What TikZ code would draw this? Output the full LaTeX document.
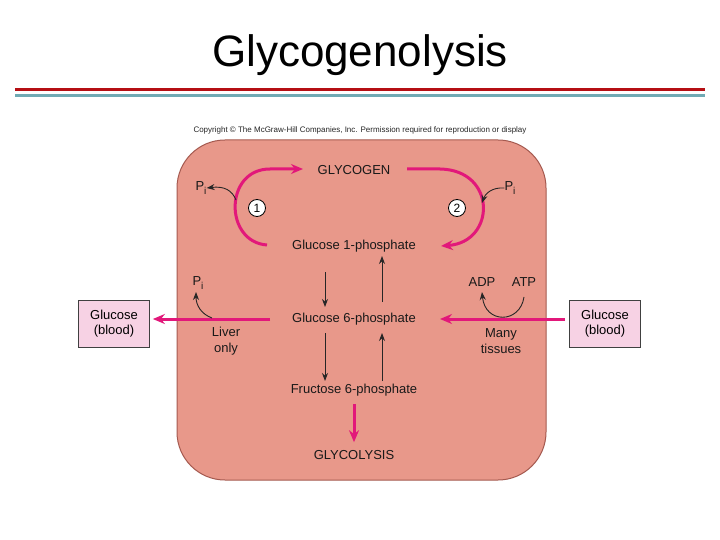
\documentclass[tikz,border=0pt]{standalone}
\usepackage{fontspec}
\setmainfont{Liberation Sans}
\usetikzlibrary{arrows.meta}
\definecolor{pinkarrow}{RGB}{226,24,122}
\definecolor{cellfill}{RGB}{232,152,138}
\definecolor{cellline}{RGB}{165,90,80}
\definecolor{boxfill}{RGB}{247,210,228}
\definecolor{redline}{RGB}{181,15,20}
\definecolor{tealline}{RGB}{112,170,180}
\newcommand{\Pisub}{P\raisebox{-0.3em}{\fontsize{10}{10}\selectfont i}}
\begin{document}
\begin{tikzpicture}[x=1pt,y=-1pt,
  lbl/.style={font=\fontsize{13}{15.5}\selectfont, inner sep=0pt, text=black!90},
  pinkarr/.style={draw=pinkarrow, line width=3pt, -{Stealth[length=12pt,width=10pt]}},
  blackarr/.style={draw=black!85, line width=0.9pt, -{Stealth[length=8pt,width=6pt]}},
  bloodbox/.style={draw=black!75, fill=boxfill, line width=0.7pt, minimum width=71pt, minimum height=47pt, align=center, inner sep=0pt, font=\fontsize{13}{15.5}\selectfont},
  stepnum/.style={circle, draw=black, fill=white, line width=0.8pt, minimum size=17pt, inner sep=0pt, font=\fontsize{12}{14}\selectfont}
]
\useasboundingbox (0,0) rectangle (720,540);
\fill[white] (0,0) rectangle (720,540);

% title and rules
\node[font=\fontsize{44}{52}\selectfont, inner sep=0pt] (title) at (360,55) {Glycogenolysis};
\fill[redline] (15,88) rectangle (705,91.5);
\fill[tealline] (15,94) rectangle (705,97.5);

\node[font=\fontsize{8}{9}\selectfont, inner sep=0pt, text=black!85] (copy) at (360,130) {Copyright \textcopyright{} The McGraw-Hill Companies, Inc. Permission required for reproduction or display};

% cell
\draw[cellline, fill=cellfill, line width=1pt, rounded corners=48pt] (177,140) rectangle (546,480);

% main labels
\node[lbl] (glycogen) at (354,170) {GLYCOGEN};
\node[lbl] (g1p) at (354,246) {Glucose 1-phosphate};
\node[lbl] (g6p) at (354,319) {Glucose 6-phosphate};
\node[lbl] (f6p) at (354,390) {Fructose 6-phosphate};
\node[lbl] (glycolysis) at (354,455) {GLYCOLYSIS};

% pathway 1 and 2 arcs
\coordinate (a1s) at (267,245);
\coordinate (a1e) at (303,169);
\draw[pinkarr] (a1s) .. controls (224,242) and (224,169) .. (270,169) -- (a1e);
\coordinate (a2s) at (407,169);
\coordinate (a2e) at (441,246);
\draw[pinkarr] (a2s) -- (440,169) .. controls (497,170) and (496,242) .. (a2e);

\node[stepnum] (one) at (257,208) {1};
\node[stepnum] (two) at (457,208) {2};

\node[lbl] (pi1) at (201,188) {\Pisub};
\node[lbl] (pi2) at (510,188) {\Pisub};
\coordinate (b1) at (236,200);
\draw[blackarr] (b1) .. controls (232,190) and (224,186) .. (pi1.east);
\coordinate (b2) at (482,203);
\draw[blackarr] (pi2.west) .. controls (492,187) and (485,194) .. (b2);

% vertical arrows
\draw[blackarr] (325,272) -- (325,307);
\draw[blackarr] (382,302) -- (382,256);
\draw[blackarr] (325,333) -- (325,381);
\draw[blackarr] (382,381) -- (382,333);
\coordinate (gs) at (354,404);
\draw[pinkarr] (gs) -- ([yshift=8]glycolysis.north);

% blood boxes
\node[bloodbox] (lblood) at (114,323.5) {Glucose\\(blood)};
\node[bloodbox] (rblood) at (605,323.5) {Glucose\\(blood)};

\coordinate (ls) at (270,319);
\draw[pinkarr] (ls) -- ([xshift=3]lblood.east |- ls);
\coordinate (rs) at (565,319);
\draw[pinkarr] (rs) -- (440,319);

\node[lbl] (pi3) at (198,283) {\Pisub};
\coordinate (b3) at (212,318);
\draw[blackarr] (b3) .. controls (201,314) and (196,305) .. (196,292);
\node[lbl, align=center] (liver) at (226,341) {Liver\\only};

\node[lbl] (adp) at (482,282) {ADP};
\node[lbl] (atp) at (524,282) {ATP};
\draw[blackarr] (524,297) .. controls (520,324) and (485,324) .. (482,292);
\node[lbl, align=center] (many) at (501,341) {Many\\tissues};
\end{tikzpicture}
\end{document}
